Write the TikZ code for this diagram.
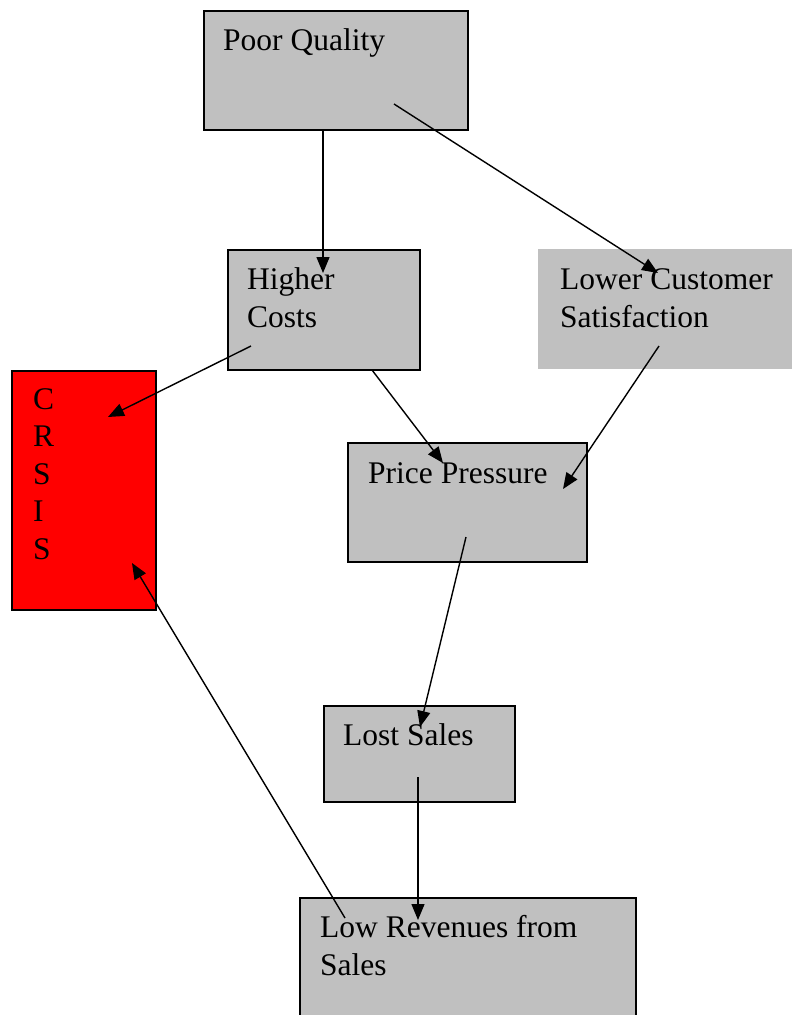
\documentclass[tikz,border=0pt]{standalone}
\usepackage{fontspec}
\setmainfont{Liberation Serif}
\usetikzlibrary{arrows.meta}
\definecolor{boxGray}{RGB}{192,192,192}
\definecolor{crisisRed}{RGB}{255,0,0}
\tikzset{
  factor/.style={draw, line width=1.8pt, fill=boxGray, anchor=north west, inner sep=0pt},
  softfactor/.style={fill=boxGray, anchor=north west, inner sep=0pt},
  crisis/.style={draw, line width=1.8pt, fill=crisisRed, anchor=north west, inner sep=0pt},
  caption/.style={anchor=base west, align=left, inner sep=0pt, font=\fontsize{31.5}{37.5}\selectfont},
  link/.style={-{Triangle[length=16pt, width=13pt]}, line width=1.4pt},
}

\begin{document}
\begin{tikzpicture}[x=1pt, y=-1pt]
    \useasboundingbox (0,0) rectangle (792,1015);
    % boxes
    \node[factor, minimum width=264pt, minimum height=119pt] (pq) at (203,10) {};
    \node[factor, minimum width=192pt, minimum height=120pt] (hc) at (227,249) {};
    \node[softfactor, minimum width=254pt, minimum height=120pt] (lcs) at (538,249) {};
    \node[crisis, minimum width=144pt, minimum height=239pt] (cr) at (11,370) {};
    \node[factor, minimum width=239pt, minimum height=119pt] (pp) at (347,442) {};
    \node[factor, minimum width=191pt, minimum height=96pt] (ls) at (323,705) {};
    \node[factor, minimum width=336pt, minimum height=130pt] (lr) at (299,897) {};
    % texts (base = last line)
    \node[caption] (pq-t)  at (223,50)  {Poor Quality};
    \node[caption] (hc-t)  at (247,327) {Higher\\Costs};
    \node[caption] (lcs-t) at (560,327) {Lower Customer\\Satisfaction};
    \node[caption] (cr-t)  at (33,559)  {C\\R\\S\\I\\S};
    \node[caption] (pp-t)  at (368,483) {Price Pressure};
    \node[caption] (ls-t)  at (343,745) {Lost Sales};
    \node[caption] (lr-t)  at (320,975) {Low Revenues from\\Sales};
    % arrow ends
    \coordinate (pq-a)  at (323,129);  \coordinate (hc-in)  at (323,273);
    \coordinate (pq-b)  at (394,104);  \coordinate (lcs-in) at (658,273);
    \coordinate (hc-a)  at (251,346);  \coordinate (cr-top) at (108,417);
    \coordinate (hc-b)  at (372,370);  \coordinate (pp-in)  at (443,463);
    \coordinate (lcs-a) at (659,346);  \coordinate (pp-rt)  at (563,489);
    \coordinate (pp-a)  at (466,537);  \coordinate (ls-in)  at (420,727);
    \coordinate (ls-a)  at (418,777);  \coordinate (lr-in)  at (418,920);
    \coordinate (lr-a)  at (345,918);  \coordinate (cr-low) at (132,563);
    \draw[link] (pq-a) -- (hc-in);
    \draw[link] (pq-b) -- (lcs-in);
    \draw[link] (hc-a) -- (cr-top);
    \draw[link] (hc-b) -- (pp-in);
    \draw[link] (lcs-a) -- (pp-rt);
    \draw[link] (pp-a) -- (ls-in);
    \draw[link] (ls-a) -- (lr-in);
    \draw[link] (lr-a) -- (cr-low);
\end{tikzpicture}
\end{document}
